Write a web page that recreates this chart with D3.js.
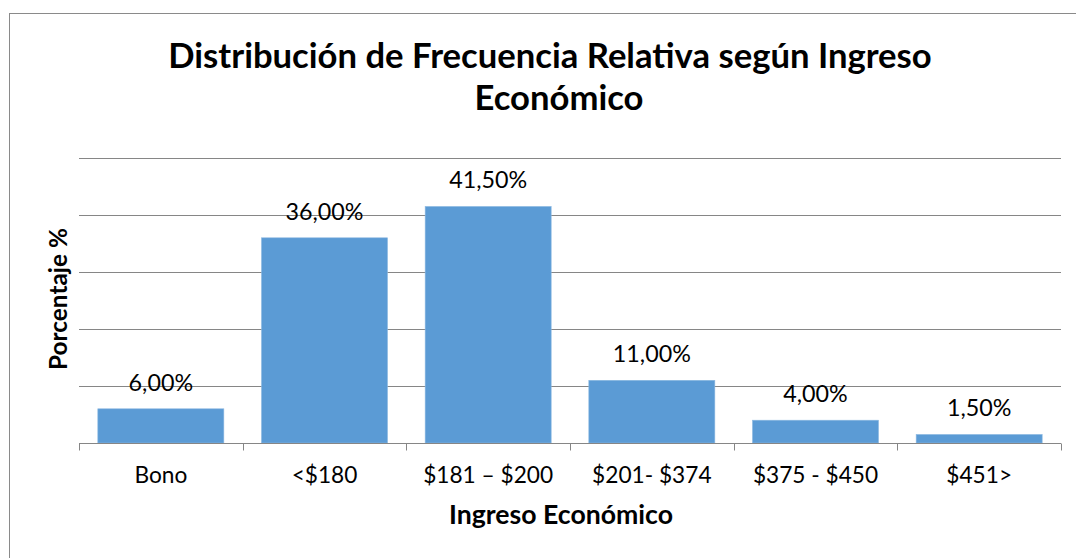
<!DOCTYPE html>
<html>
<head>
<meta charset="utf-8">
<script src="https://cdn.jsdelivr.net/npm/d3@7"></script>
<style>
  body { margin: 0; background: #fff; }
  text { font-family: Lato, "Open Sans", sans-serif; fill: #000; }
</style>
</head>
<body>
<div id="chart"></div>
<script>
const categories = ["Bono", "<$180", "$181 – $200", "$201- $374", "$375 - $450", "$451>"];
const percentages = [6.0, 36.0, 41.5, 11.0, 4.0, 1.5];
const yTicks = [0, 10, 20, 30, 40, 50];
const titleLines = ["Distribución de Frecuencia Relativa según Ingreso", "Económico"];

const W = 1076, H = 558;
const svg = d3.select("#chart").append("svg").attr("width", W).attr("height", H);

// outer chart border (runs off the right/bottom of the picture)
svg.append("rect")
  .attr("x", 9.5).attr("y", 13.5)
  .attr("width", 1200).attr("height", 700)
  .attr("fill", "none").attr("stroke", "#8a8a8a");

let x = d3.scaleBand().domain(categories).range([79, 1061]).paddingInner(0.23).paddingOuter(0.115);
let y = d3.scaleLinear().domain([0, 50]).range([443, 158]);

// font-size that gives the wanted total width for some sample strings
function fitSize(samples, target, weight) {
  let g = svg.append("g");
  let total = 0;
  samples.forEach(s => {
    total += g.append("text").attr("font-size", 20).attr("font-weight", weight || "normal")
      .text(s).node().getComputedTextLength();
  });
  g.remove();
  return 20 * target / total;
}

// gridlines
svg.append("g").selectAll("line")
  .data(yTicks.slice(1))
  .enter().append("line")
  .attr("x1", 79).attr("x2", 1061)
  .attr("y1", d => Math.round(y(d)) + 0.5).attr("y2", d => Math.round(y(d)) + 0.5)
  .attr("stroke", "#868686").attr("stroke-width", 1);

// bars
svg.append("g").selectAll("rect")
  .data(percentages)
  .enter().append("rect")
  .attr("x", (d, i) => x(categories[i]))
  .attr("y", d => y(d))
  .attr("width", x.bandwidth())
  .attr("height", d => y(0) - y(d))
  .attr("fill", "#5b9bd5")
  .attr("stroke", "#8db9e2").attr("stroke-width", 0.6);

// x axis line + boundary ticks
let base = Math.round(y(0)) + 0.5;
svg.append("line")
  .attr("x1", 79).attr("x2", 1061).attr("y1", base).attr("y2", base)
  .attr("stroke", "#868686");
svg.append("g").selectAll("line")
  .data(d3.range(categories.length + 1))
  .enter().append("line")
  .attr("x1", i => Math.round(x.range()[0] + i * x.step()) + 0.5)
  .attr("x2", i => Math.round(x.range()[0] + i * x.step()) + 0.5)
  .attr("y1", base).attr("y2", base + 7)
  .attr("stroke", "#868686");

// data labels
let fmt = v => v.toFixed(2).replace(".", ",") + "%";
let labelSize = fitSize(["6,00%", "36,00%", "1,50%"], 65 + 78 + 64);
svg.append("g").selectAll("text")
  .data(percentages)
  .enter().append("text")
  .attr("x", (d, i) => x(categories[i]) + x.bandwidth() / 2)
  .attr("y", d => y(d) - 18)
  .attr("text-anchor", "middle")
  .attr("font-size", labelSize)
  .text(fmt);

// category labels
let catSize = fitSize(["Bono", "$181 – $200", "$375 - $450", "$451>"], 55 + 126 + 127 + 66);
svg.append("g").selectAll("text")
  .data(categories)
  .enter().append("text")
  .attr("x", d => x(d) + x.bandwidth() / 2)
  .attr("y", 483)
  .attr("text-anchor", "middle")
  .attr("font-size", catSize)
  .text(d => d);

// axis titles
svg.append("text")
  .attr("x", 561).attr("y", 524)
  .attr("text-anchor", "middle")
  .attr("font-weight", "bold")
  .attr("font-size", fitSize(["Ingreso Económico"], 224, "bold"))
  .text("Ingreso Económico");

svg.append("text")
  .attr("transform", "translate(67,299) rotate(-90)")
  .attr("text-anchor", "middle")
  .attr("font-weight", "bold")
  .attr("font-size", fitSize(["Porcentaje %"], 142, "bold"))
  .text("Porcentaje %");

// title
let titleSize = fitSize([titleLines[0]], 764, "bold");
svg.append("g").selectAll("text")
  .data(titleLines)
  .enter().append("text")
  .attr("x", (d, i) => i === 0 ? 550 : 559)
  .attr("y", (d, i) => 68 + i * 42)
  .attr("text-anchor", "middle")
  .attr("font-weight", "bold")
  .attr("font-size", titleSize)
  .text(d => d);
</script>
</body>
</html>
